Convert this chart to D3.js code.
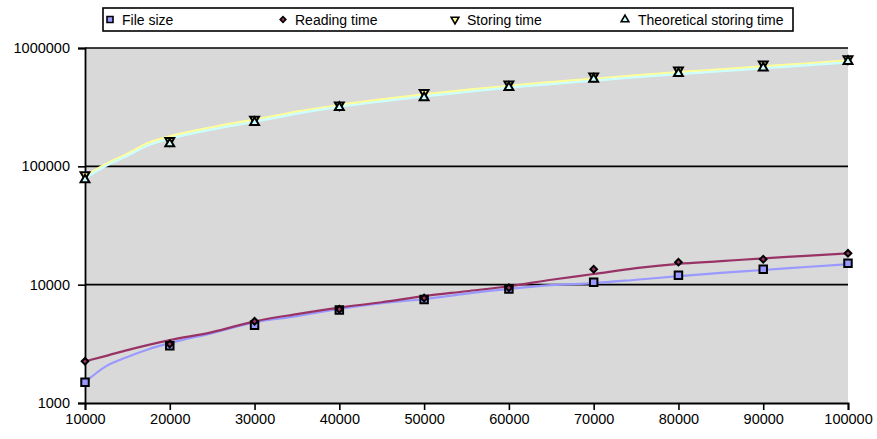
<!DOCTYPE html>
<html><head><meta charset="utf-8">
<script src="https://cdn.jsdelivr.net/npm/d3@7"></script>
<style>body{margin:0;background:#fff}svg text{font-family:"Liberation Sans",Arial,sans-serif}</style>
</head><body><svg id="c" width="877" height="439"></svg>
<script>
// Marker data (measured points)
const xPoints = [10000,20000,30000,40000,50000,60000,70000,80000,90000,100000];
const fileSize = [1500,3050,4550,6100,7500,9200,10500,12000,13500,15200];
const readingTime = [2250,3150,4900,6200,7700,9400,13500,15500,16400,18400];
const storingTime = [85000,165000,250000,330000,420000,495000,580000,650000,730000,810000];
const theoreticalTime = [77000,155000,235000,315000,380000,465000,545000,610000,680000,770000];

// Trend lines
const lineX = [10000,12500,15000,17500,20000,25000,30000,35000,40000,45000,50000,55000,60000,65000,70000,75000,80000,85000,90000,95000,100000];
const fileSizeLine = [1500,2050,2450,2850,3210,3900,4800,5420,6250,6980,7570,8400,9200,9900,10300,11000,11800,12600,13300,14100,14900];
const readingLine = [2250,2500,2800,3100,3400,3970,4900,5640,6400,7100,8000,8800,9700,11000,12300,13800,15000,15800,16700,17500,18400];
const storingLine = [82000,105000,128000,158000,179000,214000,248000,290000,330000,368000,405000,442000,480000,515000,550000,588000,625000,660000,700000,740000,785000];
const theoreticalLine = [79000,101000,123000,151000,171000,205000,238000,279000,318000,354000,390000,425000,462000,496000,530000,566000,602000,636000,674000,713000,756000];

const xTicks = [10000,20000,30000,40000,50000,60000,70000,80000,90000,100000];
const yTicks = [1000,10000,100000,1000000];
const legendLabels = ["File size","Reading time","Storing time","Theoretical storing time"];

const svg = d3.select("#c");
const L=85,R=848,T=48,B=403;
const x = d3.scaleLinear().domain([10000,100000]).range([L,R]);
const y = d3.scaleLog().domain([1000,1000000]).range([B,T]);

svg.append("rect").attr("x",L).attr("y",T).attr("width",R-L).attr("height",B-T).attr("fill","#D9D9D9");

// gridlines
svg.append("g").selectAll("line").data(yTicks.slice(1)).join("line")
  .attr("x1",L).attr("x2",R).attr("y1",d=>y(d)).attr("y2",d=>y(d))
  .attr("stroke","#000").attr("stroke-width",1.6);

// axes
const xAxis = svg.append("g").attr("transform",`translate(0,${B})`)
  .call(d3.axisBottom(x).tickValues(xTicks).tickFormat(d3.format("d")).tickSizeOuter(0).tickSize(7).tickPadding(4));
const yAxis = svg.append("g").attr("transform",`translate(${L},0)`)
  .call(d3.axisLeft(y).tickValues(yTicks).tickFormat(d3.format("d")).tickSizeOuter(0).tickSize(7).tickPadding(8));
[xAxis,yAxis].forEach(g=>{
  g.select(".domain").attr("stroke","#000").attr("stroke-width",1.8);
  g.selectAll(".tick line").attr("stroke","#000").attr("stroke-width",1.6);
  g.selectAll("text").attr("font-size",14.5).attr("fill","#000").style("font-family","Liberation Sans, Arial, sans-serif");
});

const line = d3.line().x((d,i)=>x(lineX[i])).y(d=>y(d)).curve(d3.curveMonotoneX);
const lines = [
  {vals:storingLine,color:"#FFFF99"},
  {vals:theoreticalLine,color:"#CCFFFF"},
  {vals:fileSizeLine,color:"#9999FF"},
  {vals:readingLine,color:"#993366"}
];
lines.forEach(l=>{
  svg.append("path").attr("d",line(l.vals)).attr("fill","none").attr("stroke",l.color).attr("stroke-width",2.2);
});

const sym = {
  square: d3.symbol().type(d3.symbolSquare).size(56),
  diamond: d3.symbol().type(d3.symbolSquare).size(22),
  down: d3.symbol().type(d3.symbolTriangle).size(34),
  up: d3.symbol().type(d3.symbolTriangle).size(34)
};
const series = [
  {vals:fileSize,shape:"square",fill:"#9999FF",rot:0},
  {vals:readingTime,shape:"diamond",fill:"#993366",rot:45},
  {vals:storingTime,shape:"down",fill:"#FFFF99",rot:180},
  {vals:theoreticalTime,shape:"up",fill:"#CCFFFF",rot:0}
];
series.forEach(s=>{
  svg.append("g").selectAll("path").data(s.vals).join("path")
    .attr("d",sym[s.shape]())
    .attr("transform",(d,i)=>`translate(${x(xPoints[i])},${y(d)}) rotate(${s.rot})`)
    .attr("fill",s.fill).attr("stroke","#000").attr("stroke-width",2);
});

// legend
const lg = svg.append("g");
lg.append("rect").attr("x",103).attr("y",8).attr("width",690).attr("height",23)
  .attr("fill","#fff").attr("stroke","#000").attr("stroke-width",1.6);
const legX = [110,283,455,625];
const legTextX = [122,295,467,638];
legendLabels.forEach((t,i)=>{
  const s = series[i];
  lg.append("path").attr("d",d3.symbol().type(i===2||i===3?d3.symbolTriangle:d3.symbolSquare).size(i===0?36:i===1?16:26)())
    .attr("transform",`translate(${legX[i]},19.5) rotate(${s.rot})`)
    .attr("fill",s.fill).attr("stroke","#000").attr("stroke-width",1.6);
  lg.append("text").attr("x",legTextX[i]).attr("y",24.5).attr("font-size",14).text(t);
});
</script></body></html>
